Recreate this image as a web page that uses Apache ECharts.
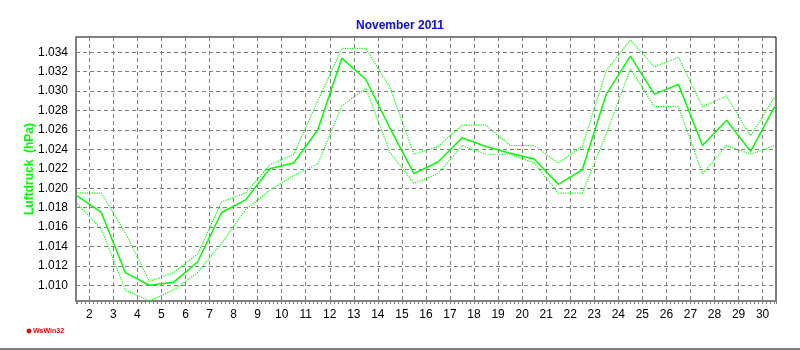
<!DOCTYPE html>
<html>
<head>
<meta charset="utf-8">
<script src="https://cdn.jsdelivr.net/npm/echarts@6/dist/echarts.min.js"></script>
<style>
html,body{margin:0;padding:0;background:#fff;}
#chart{width:800px;height:350px;}
</style>
</head>
<body>
<div id="chart"></div>
<script>
// Time points (day of month, noon)
const days = [1.5, 2.5, 3.5, 4.5, 5.5, 6.5, 7.5, 8.5, 9.5, 10.5, 11.5, 12.5, 13.5, 14.5, 15.5,
              16.5, 17.5, 18.5, 19.5, 20.5, 21.5, 22.5, 23.5, 24.5, 25.5, 26.5, 27.5, 28.5, 29.5, 30.5];
// Mean air pressure
const pressureMean = [1.0192, 1.0175, 1.0113, 1.0100, 1.0103, 1.0124, 1.0175, 1.0188, 1.0220, 1.0226,
                      1.0260, 1.0334, 1.0312, 1.0262, 1.0215, 1.0227, 1.0252, 1.0243, 1.0236, 1.0230,
                      1.0204, 1.0219, 1.0297, 1.0336, 1.0297, 1.0307, 1.0244, 1.0270, 1.0238, 1.0284];
// Maximum
const pressureMax = [1.0195, 1.0195, 1.0154, 1.0104, 1.0113, 1.0132, 1.0186, 1.0195, 1.0224, 1.0235,
                     1.0290, 1.0344, 1.0344, 1.0304, 1.0235, 1.0243, 1.0265, 1.0265, 1.0244, 1.0244,
                     1.0226, 1.0243, 1.0321, 1.0353, 1.0325, 1.0335, 1.0284, 1.0295, 1.0254, 1.0294];
// Minimum
const pressureMin = [1.0184, 1.0158, 1.0095, 1.0084, 1.0095, 1.0113, 1.0143, 1.0178, 1.0198, 1.0213,
                     1.0225, 1.0285, 1.0303, 1.0237, 1.0205, 1.0215, 1.0244, 1.0235, 1.0235, 1.0226,
                     1.0195, 1.0195, 1.0256, 1.0323, 1.0284, 1.0284, 1.0215, 1.0244, 1.0235, 1.0244];

const titleText = 'November 2011';
const yName = 'Luftdruck  (hPa)';
const footerText = 'WsWin32';

const pair = (ys) => days.map((d, i) => [d, ys[i]]);

const chart = echarts.init(document.getElementById('chart'), null, {renderer: 'canvas'});
const FONT = '"Liberation Sans", Arial, sans-serif';
chart.setOption({
  animation: false,
  backgroundColor: '#ffffff',
  title: {
    text: titleText,
    left: 'center',
    top: 15,
    textStyle: {fontFamily: FONT, fontSize: 12, fontWeight: 'bold', color: '#0a0aff'}
  },
  grid: {
    left: 76, right: 24, top: 37, bottom: 49,
    show: true, borderColor: '#000000', borderWidth: 1, backgroundColor: 'transparent'
  },
  xAxis: {
    type: 'value',
    min: 1.447, max: 30.557,
    splitNumber: 29,
    axisLine: {show: true, lineStyle: {color: '#808080', width: 2}},
    axisTick: {show: true, length: 3, lineStyle: {color: '#808080'}},
    minorTick: {show: true, splitNumber: 6, length: 3, lineStyle: {color: '#808080'}},
    axisLabel: {
      showMinLabel: false, showMaxLabel: false,
      margin: 8, color: '#000', fontFamily: FONT, fontSize: 12,
      formatter: v => String(Math.round(v))
    },
    splitLine: {show: true, lineStyle: {color: '#808080', width: 1, type: [4, 3]}}
  },
  yAxis: {
    type: 'value',
    min: 1.00838, max: 1.03558,
    splitNumber: 13,
    name: yName,
    nameLocation: 'middle',
    nameGap: 40,
    nameMoveOverlap: false,
    nameRotate: 90,
    nameTextStyle: {fontFamily: FONT, fontSize: 12, fontWeight: 'bold', color: '#00ff00'},
    axisLine: {show: true, lineStyle: {color: '#808080', width: 2}},
    axisTick: {show: false},
    axisLabel: {
      showMinLabel: false, showMaxLabel: false,
      margin: 8, color: '#000', fontFamily: FONT, fontSize: 12,
      formatter: v => v.toFixed(3)
    },
    splitLine: {show: true, lineStyle: {color: '#808080', width: 1, type: [4, 3]}}
  },
  series: [
    {type: 'line', data: pair(pressureMax), symbol: 'none', lineStyle: {color: '#00ff00', width: 1.2, type: [1.2, 1.2]}, z: 3},
    {type: 'line', data: pair(pressureMin), symbol: 'none', lineStyle: {color: '#00ff00', width: 1.2, type: [1.2, 1.2]}, z: 3},
    {type: 'line', data: pair(pressureMean), symbol: 'none', lineStyle: {color: '#00ff00', width: 1.5}, z: 4}
  ],
  graphic: [
    {type: 'circle', shape: {cx: 29, cy: 331, r: 2}, style: {fill: '#ff0000', stroke: '#cc0000', lineWidth: 1}},
    {type: 'text', x: 33, y: 331, style: {text: footerText, fill: '#ff0000', font: 'bold 7px ' + FONT, textVerticalAlign: 'middle'}},
    {type: 'line', shape: {x1: 0, y1: 349, x2: 800, y2: 349}, style: {stroke: '#808080', lineWidth: 2}}
  ]
});
</script>
</body>
</html>
